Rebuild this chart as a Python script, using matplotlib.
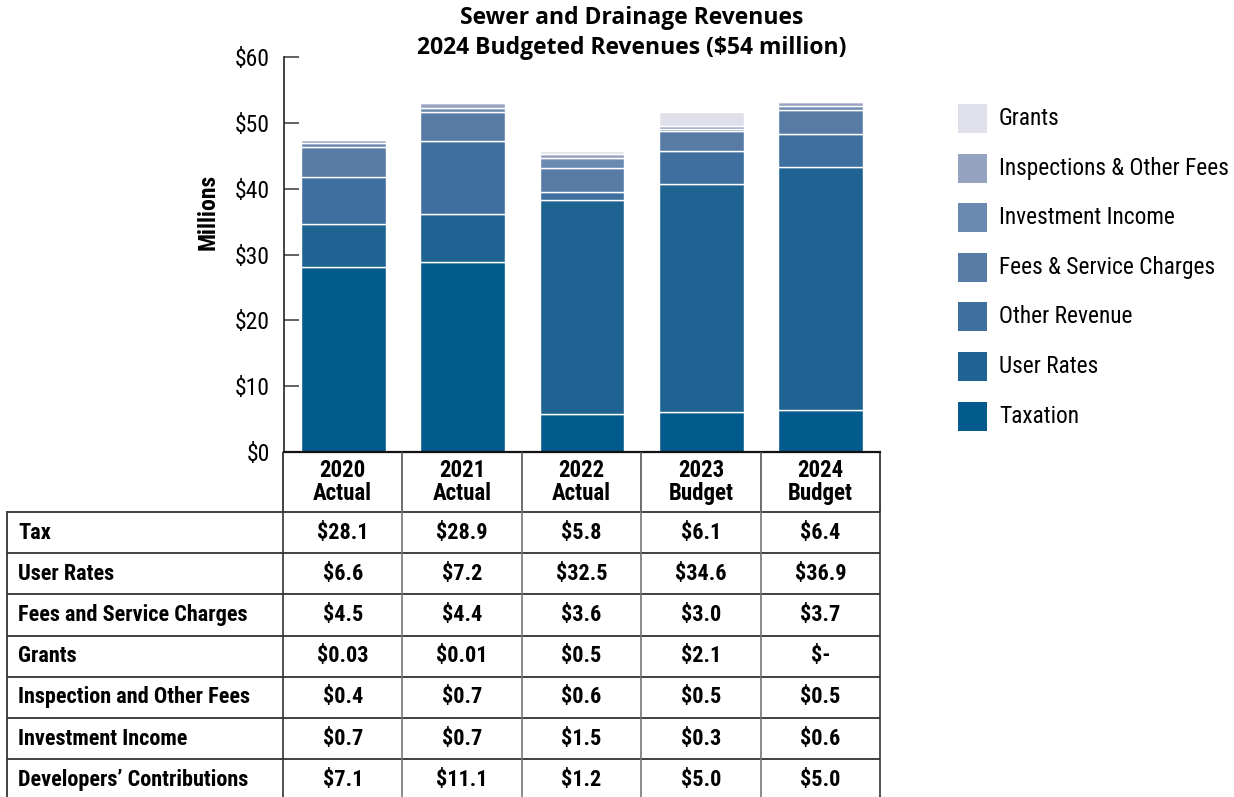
import matplotlib
matplotlib.use("Agg")
import matplotlib.pyplot as plt
from matplotlib.patches import Rectangle
import numpy as np

# ---------------- data ----------------
years = ["2020\nActual", "2021\nActual", "2022\nActual", "2023\nBudget", "2024\nBudget"]
taxation = [28.1, 28.9, 5.8, 6.1, 6.4]
user_rates = [6.6, 7.2, 32.5, 34.6, 36.9]
developers = [7.1, 11.1, 1.2, 5.0, 5.0]
fees_service = [4.5, 4.4, 3.6, 3.0, 3.7]
investment = [0.7, 0.7, 1.5, 0.3, 0.6]
inspection = [0.4, 0.7, 0.6, 0.5, 0.5]
grants = [0.03, 0.01, 0.5, 2.1, 0.0]

stack_names = ["Taxation", "User Rates", "Other Revenue", "Fees & Service Charges",
               "Investment Income", "Inspections & Other Fees", "Grants"]
stack_values = [taxation, user_rates, developers, fees_service, investment, inspection, grants]
stack_colors = ["#035a8c", "#1e6391", "#3e6f9e", "#587ba6", "#6b8ab1", "#96a3c0", "#dfe0ea"]

table_rows = ["Tax", "User Rates", "Fees and Service Charges", "Grants",
              "Inspection and Other Fees", "Investment Income", "Developers\u2019 Contributions"]
table_values = [taxation, user_rates, fees_service, grants, inspection, investment, developers]

yticks = [0, 10, 20, 30, 40, 50, 60]

COND = ["Roboto Condensed", "Roboto", "DejaVu Sans"]
TITLE = ["Open Sans", "DejaVu Sans"]

def fmt(v):
    if v == 0:
        return "$-"
    if v < 0.1:
        return f"${v:.2f}"
    return f"${v:.1f}"

# ---------------- figure ----------------
W, H = 1234, 797
fig = plt.figure(figsize=(W / 100, H / 100), dpi=100)

x0, x1, ytop, ybot = 284, 880, 57, 452
ax = fig.add_axes([x0 / W, 1 - ybot / H, (x1 - x0) / W, (ybot - ytop) / H])
ax.set_xlim(-0.5, 4.5)
ax.set_ylim(0, 60)

xs = np.arange(len(years))
bottom = np.zeros(len(years))
for name, vals, col in zip(stack_names, stack_values, stack_colors):
    v = np.array(vals)
    ax.bar(xs, v, width=0.71, bottom=bottom, color=col, edgecolor="white",
           linewidth=1.0, label=name, zorder=2)
    bottom += v

ax.set_yticks(yticks)
ax.set_yticklabels([f"${t}" for t in yticks], family=COND, fontsize=17)
ax.set_xticks([])
ax.tick_params(axis="y", direction="in", length=11, width=1.3, color="#555555", pad=10)
for s in ["top", "right"]:
    ax.spines[s].set_visible(False)
ax.spines["left"].set_color("#222222")
ax.spines["left"].set_linewidth(1.2)
ax.spines["bottom"].set_color("#111111")
ax.spines["bottom"].set_linewidth(1.6)
ax.set_ylabel("Millions", family=COND, fontsize=17, fontweight="bold")
ax.yaxis.set_label_coords((220 - x0) / (x1 - x0), (ybot - 212) / (ybot - ytop))

# title
fig.text(632 / W, 1 - 18 / H, "Sewer and Drainage Revenues", ha="center", va="center",
         family=TITLE, fontsize=16.5, fontweight="bold")
fig.text(632 / W, 1 - 48 / H, "2024 Budgeted Revenues ($54 million)", ha="center", va="center",
         family=TITLE, fontsize=16.5, fontweight="bold")

# ---------------- legend (manual) ----------------
lg = fig.add_axes([0, 0, 1, 1])
lg.set_xlim(0, W)
lg.set_ylim(H, 0)
lg.axis("off")
leg_order = list(range(len(stack_names)))[::-1]
for k, i in enumerate(leg_order):
    top = 104 + k * 49.6
    lg.add_patch(Rectangle((958, top), 29, 29, facecolor=stack_colors[i], edgecolor="none"))
    lg.text(999, top + 14.5, stack_names[i], ha="left", va="center", family=COND, fontsize=16.8)

# ---------------- table ----------------
col_edges = np.linspace(x0 - 1, x1, len(years) + 1)
col_centers = (col_edges[:-1] + col_edges[1:]) / 2
row_lines = [512, 553.2, 594.4, 635.6, 676.8, 718, 759.2]
row_bottom = 800
left_edge = 7

# header
for j, xe in enumerate(col_edges):
    edge = j in (0, len(col_edges) - 1)
    lg.plot([xe, xe], [ybot, row_lines[0]], color="#222222" if edge else "#555555",
            lw=1.2, solid_capstyle="butt")
for xc, lab in zip(col_centers, years):
    lg.text(xc, 482, lab, ha="center", va="center", family=COND, fontsize=16.5,
            fontweight="bold", linespacing=1.0)

# horizontal lines
for yl in row_lines:
    lg.plot([left_edge, x1], [yl, yl], color="#333333", lw=1.3, solid_capstyle="butt")
# vertical lines
lg.plot([left_edge, left_edge], [row_lines[0], row_bottom], color="#333333", lw=1.3)
for j, xe in enumerate(col_edges):
    edge = j in (0, len(col_edges) - 1)
    lg.plot([xe, xe], [row_lines[0], row_bottom], color="#333333" if edge else "#777777", lw=1.2)

row_tops = row_lines + [row_lines[-1] + 41.2]
for r, (lab, vals) in enumerate(zip(table_rows, table_values)):
    yc = (row_tops[r] + row_tops[r + 1]) / 2
    lg.text(18, yc, lab, ha="left", va="center", family=COND, fontsize=16, fontweight="bold")
    for xc, v in zip(col_centers, vals):
        lg.text(xc, yc, fmt(v), ha="center", va="center", family=COND, fontsize=16,
                fontweight="bold")

fig.savefig("out.png", dpi=100)
